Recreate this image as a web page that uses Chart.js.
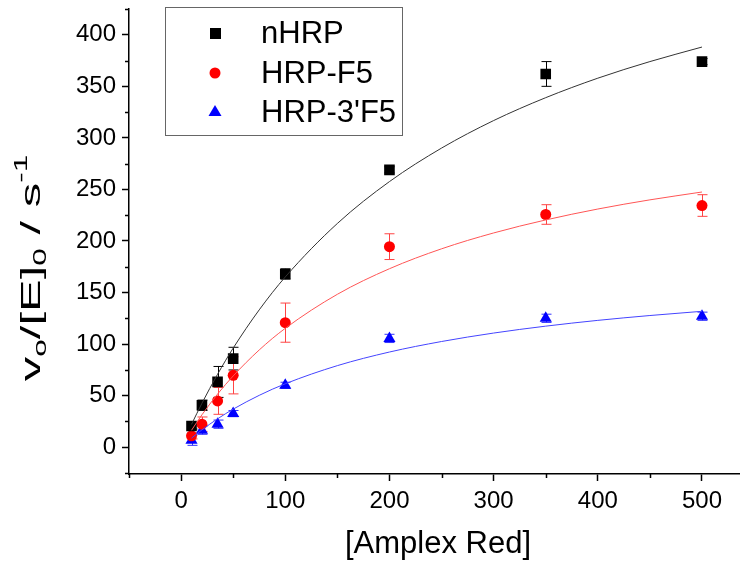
<!DOCTYPE html>
<html>
<head>
<meta charset="utf-8">
<script src="https://cdn.jsdelivr.net/npm/chart.js@4"></script>
<style>
  body { margin: 0; background: #fff; }
  #stage { display: block; }
</style>
</head>
<body>
<canvas id="stage" width="747" height="566"></canvas>
<script>
//測定点 [Amplex Red]
var X_PTS = [10, 20, 35, 50, 100, 200, 350, 500];
//nHRP 平均値と誤差
var NHRP = [20.6, 40.7, 63.3, 85.9, 168, 269, 362, 374];
var NHRP_ERR = [3, 5, 15, 11, 5, 3, 12, 3];
//HRP-F5
var F5 = [11, 22.3, 44.9, 69.7, 120.8, 194.5, 225.7, 234.4];
var F5_ERR = [3, 7, 13, 18, 19, 12.5, 9.5, 10.5];
//HRP-3'F5
var F3 = [6.8, 16.5, 22.3, 32.6, 60, 105.5, 125, 127];
var F3_ERR = [5, 4, 4, 3, 3, 4, 4, 4];
//フィット曲線
var FIT_X = [10, 20, 35, 50, 75, 100, 150, 200, 250, 300, 350, 400, 450, 500];
var FIT_NHRP = [22.1, 42.6, 70.7, 96.1, 133.2, 165.1, 217.0, 257.6, 290.1, 316.8, 339.0, 357.9, 374.0, 388.1];
var FIT_F5 = [16.4, 31.4, 51.5, 69.1, 94.3, 115.3, 148.3, 173.1, 192.4, 207.8, 220.4, 231.0, 239.9, 247.5];
var FIT_F3 = [8.8, 16.8, 27.5, 36.9, 50.3, 61.5, 79.1, 92.3, 102.5, 110.7, 117.4, 123.0, 127.7, 131.8];
//凡例
var LABELS = ['nHRP', 'HRP-F5', "HRP-3'F5"];

var FONT = '"Liberation Sans", Arial, sans-serif';

function pts(xs, ys){
  var a = [];
  for (let i = 0; i < xs.length; i++) a.push({x: xs[i], y: ys[i]});
  return a;
}

//誤差棒
var errorBars = {
  id: 'errorBars',
  beforeDatasetsDraw: function(chart){
    var ctx = chart.ctx;
    var xs = chart.scales.x, ys = chart.scales.y;
    chart.data.datasets.forEach(function(ds){
      if (!ds.err) return;
      ctx.save();
      ctx.strokeStyle = ds.errColor;
      ctx.lineWidth = 1;
      for (let i = 0; i < ds.data.length; i++){
        let px = Math.round(xs.getPixelForValue(ds.data[i].x)) + 0.5;
        let top = ys.getPixelForValue(ds.data[i].y + ds.err[i]);
        let bot = ys.getPixelForValue(ds.data[i].y - ds.err[i]);
        ctx.beginPath();
        ctx.moveTo(px, top); ctx.lineTo(px, bot);
        ctx.moveTo(px - 5, top); ctx.lineTo(px + 5, top);
        ctx.moveTo(px - 5, bot); ctx.lineTo(px + 5, bot);
        ctx.stroke();
      }
      ctx.restore();
    });
  }
};

//副目盛り・軸タイトル・凡例
var extras = {
  id: 'extras',
  afterDraw: function(chart){
    var ctx = chart.ctx;
    var xs = chart.scales.x, ys = chart.scales.y;
    ctx.save();
    ctx.strokeStyle = '#000';
    ctx.lineWidth = 1.5;
    ctx.beginPath();
    for (let v = -25; v <= 425; v += 50){
      let py = Math.round(ys.getPixelForValue(v)) + 0.5;
      if (py < ys.top - 1 || py > ys.bottom) continue;
      ctx.moveTo(ys.right - 4, py); ctx.lineTo(ys.right, py);
    }
    for (let v = -50; v <= 540; v += 100){
      let px = Math.round(xs.getPixelForValue(v)) + 0.5;
      if (px < xs.left - 1 || px > xs.right) continue;
      ctx.moveTo(px, xs.top); ctx.lineTo(px, xs.top + 4);
    }
    ctx.stroke();

    //x軸タイトル
    ctx.fillStyle = '#000';
    ctx.font = '31px ' + FONT;
    ctx.textAlign = 'center';
    ctx.textBaseline = 'alphabetic';
    ctx.fillText('[Amplex Red]', 438, 553);

    //y軸タイトル v_o/[E]_0 / s^-1
    var segs = [['v', 1, 0], ['o', 0.65, 0.22], ['/[E]', 1, 0], ['0', 0.65, 0.22], [' / s', 1, 0], ['-1', 0.65, -0.45]];
    var fs = 28;
    ctx.save();
    ctx.translate(40, 268);
    ctx.rotate(-Math.PI / 2);
    ctx.scale(1.75, 1);
    ctx.textAlign = 'left';
    var total = 0;
    segs.forEach(function(s){
      ctx.font = Math.round(fs * s[1]) + 'px ' + FONT;
      total += ctx.measureText(s[0]).width;
    });
    var cx = -total / 2;
    segs.forEach(function(s){
      ctx.font = Math.round(fs * s[1]) + 'px ' + FONT;
      ctx.fillText(s[0], cx, s[2] * fs);
      cx += ctx.measureText(s[0]).width;
    });
    ctx.restore();

    //凡例
    ctx.strokeStyle = '#666';
    ctx.lineWidth = 1;
    ctx.strokeRect(165.5, 7.5, 237, 128);
    var rows = [33, 73, 112];
    ctx.font = '31px ' + FONT;
    ctx.textAlign = 'left';
    ctx.textBaseline = 'middle';
    for (let i = 0; i < 3; i++){
      let y = rows[i];
      ctx.fillStyle = ['#000', '#ff0000', '#0000ff'][i];
      ctx.beginPath();
      if (i == 0){
        ctx.rect(210, y - 5, 11, 11);
      } else if (i == 1){
        ctx.arc(215, y, 5.5, 0, Math.PI * 2);
      } else {
        ctx.moveTo(215, y - 7); ctx.lineTo(221.5, y + 4); ctx.lineTo(208.5, y + 4); ctx.closePath();
      }
      ctx.fill();
      ctx.fillStyle = '#000';
      ctx.fillText(LABELS[i], 261, y + 1);
    }
    ctx.restore();
  }
};

function Tick(major){
  return function(c){ return (c.tick && c.tick.value % major === 0) ? '#000' : 'rgba(0,0,0,0)'; };
}

var canvas = document.getElementById('stage');
window.myChart = new Chart(canvas, {
  type: 'scatter',
  data: {
    datasets: [
      { type: 'line', data: pts(FIT_X, FIT_NHRP), borderColor: '#333333', borderWidth: 1, pointRadius: 0, fill: false, cubicInterpolationMode: 'monotone' },
      { type: 'line', data: pts(FIT_X, FIT_F5), borderColor: '#ff5555', borderWidth: 1, pointRadius: 0, fill: false, cubicInterpolationMode: 'monotone' },
      { type: 'line', data: pts(FIT_X, FIT_F3), borderColor: '#4444ff', borderWidth: 1, pointRadius: 0, fill: false, cubicInterpolationMode: 'monotone' },
      { label: LABELS[0], data: pts(X_PTS, NHRP), err: NHRP_ERR, errColor: '#000', pointStyle: 'rect', pointRadius: 7.5, backgroundColor: '#000', borderWidth: 0 },
      { label: LABELS[1], data: pts(X_PTS, F5), err: F5_ERR, errColor: '#ff4444', pointStyle: 'circle', pointRadius: 5.5, backgroundColor: '#ff0000', borderWidth: 0 },
      { label: LABELS[2], data: pts(X_PTS, F3), err: F3_ERR, errColor: '#3333ff', pointStyle: 'triangle', pointRadius: 7, backgroundColor: '#0000ff', borderWidth: 0 }
    ]
  },
  options: {
    responsive: false,
    devicePixelRatio: 1,
    animation: false,
    layout: { padding: { top: 9, right: 0, left: 0, bottom: 0 } },
    plugins: { legend: { display: false }, tooltip: { enabled: false } },
    scales: {
      x: {
        type: 'linear', min: -50, max: 536,
        afterFit: function(s){ s.height = 92; s.paddingLeft = 0; s.paddingRight = 0; },
        border: { display: true, color: '#000', width: 1.5 },
        grid: { drawOnChartArea: false, tickLength: 7, tickWidth: 1.5, tickColor: Tick(100) },
        ticks: {
          stepSize: 50, includeBounds: false, autoSkip: false, maxRotation: 0, padding: 6,
          color: '#000', font: { family: FONT, size: 24 },
          callback: function(v){ return v % 100 === 0 ? String(v) : ''; }
        }
      },
      y: {
        min: -26, max: 425,
        afterFit: function(s){ s.width = 129; s.paddingTop = 0; s.paddingBottom = 0; },
        border: { display: true, color: '#000', width: 1.5 },
        grid: { drawOnChartArea: false, tickLength: 7, tickWidth: 1.5, tickColor: Tick(50) },
        ticks: {
          stepSize: 25, includeBounds: false, autoSkip: false, padding: 6,
          color: '#000', font: { family: FONT, size: 24 },
          callback: function(v){ return v % 50 === 0 ? String(v) : ''; }
        }
      }
    }
  },
  plugins: [errorBars, extras]
});
</script>
</body>
</html>
